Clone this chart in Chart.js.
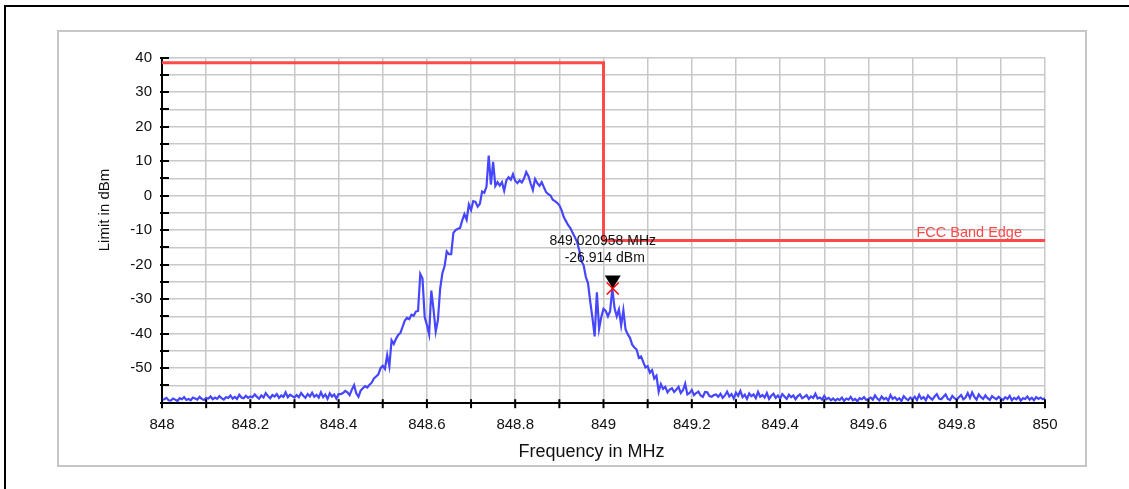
<!DOCTYPE html>
<html>
<head>
<meta charset="utf-8">
<script src="https://cdn.jsdelivr.net/npm/chart.js@4/dist/chart.umd.min.js"></script>
<style>
  html, body { margin: 0; padding: 0; background: #fff; }
  canvas { display: block; }
</style>
</head>
<body>
<canvas id="c" width="1129" height="489"></canvas>
<script>
// ---- data ----
const sweepStartMHz = 848.0;
const sweepStepMHz = 0.005;

// 848.000 - 848.400 MHz
const levelsLowNoise = [
  -59.2,-59.0,-58.6,-59.3,-59.4,-58.8,-59.1,-59.5,-58.7,-59.0,-58.4,-59.2,-58.9,-59.3,-58.5,-58.8,-59.1,-58.3,-58.9,-59.2,-58.6,
  -58.8,-58.2,-59.0,-58.5,-58.9,-58.1,-58.7,-59.1,-58.4,-58.6,-57.9,-58.8,-58.3,-58.9,-57.7,-58.5,-58.7,-58.0,-58.6,-58.2,
  -58.4,-57.6,-58.3,-58.8,-57.9,-58.5,-57.2,-58.1,-58.7,-57.8,-58.2,-57.5,-58.6,-57.9,-58.3,-57.0,-58.4,-57.7,-58.1,-58.5,
  -57.8,-58.4,-57.2,-58.0,-58.6,-57.5,-58.2,-57.1,-58.3,-57.7,-58.5,-57.0,-58.4,-57.6,-58.9,-57.3,-58.2,-57.6,-58.8,-57.5
];
// 848.405 - 849.260 MHz
const levelsMainLobe = [
  -57.5,-57.2,-56.6,-57.0,-57.8,-56.2,-54.9,-57.3,-58.3,-56.5,
  -55.8,-55.2,-55.6,-54.8,-54.2,-53.0,-52.4,-51.8,-50.0,-49.3,
  -50.2,-46.2,-49.4,-41.9,-43.0,-41.5,-40.4,-39.8,-38.0,-36.2,
  -35.4,-35.8,-34.5,-34.8,-33.6,-33.4,-22.7,-24.0,-35.2,-37.5,
  -40.2,-27.5,-33.0,-39.4,-36.0,-27.0,-22.5,-20.5,-16.2,-17.0,
  -17.0,-10.8,-10.0,-9.6,-9.4,-7.2,-5.4,-7.0,-2.6,-4.2,
  -1.6,-1.8,-3.2,-2.4,1.2,0.8,2.6,11.6,3.2,9.8,
  2.8,3.9,2.9,3.9,1.4,4.4,5.3,4.6,6.2,4.3,
  3.6,4.4,3.8,4.9,6.8,5.6,3.5,1.6,4.8,3.6,
  2.8,3.9,2.4,1.0,0.4,0.0,-1.2,-1.6,-2.1,-2.8,
  -4.2,-6.2,-7.4,-8.6,-9.4,-10.8,-12.0,-13.4,-15.8,-19.0,
  -20.2,-23.6,-25.4,-30.8,-35.5,-40.8,-28.0,-38.6,-35.2,-32.8,
  -33.4,-35.0,-33.5,-26.914,-32.6,-35.0,-33.0,-37.6,-33.2,-38.8,
  -40.2,-41.2,-43.2,-44.0,-44.6,-47.0,-46.6,-48.2,-49.8,-49.4,
  -51.3,-50.6,-53.0,-52.2,-56.8,-54.6,-56.0,-55.4,-57.0,-56.2,
  -55.8,-56.9,-56.2,-55.4,-57.2,-56.4,-54.5,-57.6,-57.2,-56.3,
  -57.8,-57.2,-56.8,-57.9,-58.3,-56.9,-57.0,-58.1,-58.3,-57.8,-57.6,-58.3
];
// 849.265 - 850.000 MHz
const levelsHighNoise = [
  -57.4,-58.6,-57.9,-56.8,-58.2,-57.5,-58.8,-57.1,-58.0,-56.6,
  -58.4,-57.7,-58.9,-57.3,-58.1,-57.6,-58.7,-56.9,-58.3,-57.8,
  -58.5,-57.2,-58.9,-58.0,-57.4,-58.6,-57.9,-58.8,-57.5,-58.2,
  -58.9,-57.7,-58.4,-57.9,-59.0,-58.1,-57.6,-58.7,-58.3,-57.8,
  -58.9,-58.2,-58.6,-57.4,-58.8,-58.5,-59.1,-58.0,
  -59.0,-58.6,-59.3,-58.8,-59.4,-58.9,-59.2,-58.5,-59.5,-58.8,-59.1,-58.3,-59.3,-58.9,-59.6,-58.7,-59.0,-58.4,-59.2,-58.9,
  -58.5,-59.1,-57.9,-58.8,-59.3,-58.2,-59.0,-58.6,-59.4,-57.8,-58.9,-58.4,-59.2,-58.7,-59.5,-58.1,-58.8,-59.3,-58.5,-59.0,
  -58.3,-59.2,-57.7,-58.9,-58.4,-59.3,-57.9,-58.6,-59.1,-58.2,-57.5,-58.8,-59.0,-58.3,-57.6,-58.9,-59.2,-58.0,-58.7,-59.1,
  -58.4,-57.8,-59.0,-58.5,-57.2,-58.6,-57.0,-58.3,-59.1,-57.6,-58.4,-58.9,-57.9,-58.7,-59.2,-58.1,-58.6,-59.0,-58.3,-58.8,
  -59.2,-58.4,-58.9,-58.0,-59.3,-58.6,-59.0,-58.3,-59.4,-58.7,-58.9,-58.2,-59.1,-58.6,-59.3,-58.4,-58.9,-58.5,-59.0,-58.7
];

const limitFreqMHz = [848, 849, 849, 850];
const limitLevelDbm = [38.5, 38.5, -13, -13];
const limitLabel = 'FCC Band Edge';

const markerFreqMHz = [849.020958];
const markerLevelDbm = [-26.914];

const xRange = [848, 850];
const xStep = 0.1;
const yRange = [-60, 40];
const yStep = 5;
const xTitle = 'Frequency in MHz';
const yTitle = 'Limit in dBm';

// ---- build ----
const traceLevels = [...levelsLowNoise, ...levelsMainLobe, ...levelsHighNoise];
const tracePoints = traceLevels.map((v, i) => ({ x: +(sweepStartMHz + i * sweepStepMHz).toFixed(3), y: v }));
const limitPoints = limitFreqMHz.map((f, i) => ({ x: f, y: limitLevelDbm[i] }));
const markerPoints = markerFreqMHz.map((f, i) => ({ x: f, y: markerLevelDbm[i] }));

const FONT = "'Liberation Sans', Arial, sans-serif";

const deco = {
  id: 'deco',
  beforeDraw(chart) {
    const ctx = chart.ctx;
    ctx.save();
    ctx.fillStyle = '#fff';
    ctx.fillRect(0, 0, chart.width, chart.height);
    ctx.strokeStyle = '#000';
    ctx.lineWidth = 2;
    ctx.strokeRect(5, 6, chart.width + 20, chart.height + 20);
    ctx.strokeStyle = '#c6c6c6';
    ctx.lineWidth = 2;
    ctx.strokeRect(58, 31, 1028, 435);
    ctx.restore();
  },
  afterDraw(chart) {
    const ctx = chart.ctx;
    const xs = chart.scales.x, ys = chart.scales.y;
    const area = chart.chartArea;
    ctx.save();
    // tick marks
    ctx.strokeStyle = '#000';
    ctx.lineWidth = 2;
    ys.ticks.forEach(t => {
      const y = Math.round(ys.getPixelForValue(t.value));
      ctx.beginPath(); ctx.moveTo(area.left - 2, y); ctx.lineTo(area.left + 7, y); ctx.stroke();
    });
    xs.ticks.forEach(t => {
      const x = xs.getPixelForValue(t.value);
      ctx.beginPath(); ctx.moveTo(x, area.bottom - 3.5); ctx.lineTo(x, area.bottom + 5.5); ctx.stroke();
    });
    // axis titles
    ctx.fillStyle = '#111';
    ctx.textAlign = 'center';
    ctx.textBaseline = 'middle';
    ctx.font = '18px ' + FONT;
    ctx.fillText(xTitle, 591.5, 452);
    ctx.save();
    ctx.translate(105, 210);
    ctx.rotate(-Math.PI / 2);
    ctx.font = '15px ' + FONT;
    ctx.fillText(yTitle, 0, 0);
    ctx.restore();
    // limit label
    ctx.fillStyle = '#ff4a4a';
    ctx.font = '14.5px ' + FONT;
    ctx.textAlign = 'right';
    ctx.fillText(limitLabel, xs.getPixelForValue(limitFreqMHz[3]) - 23, ys.getPixelForValue(limitLevelDbm[3]) - 7);
    // marker
    markerPoints.forEach(p => {
      const px = xs.getPixelForValue(p.x), py = ys.getPixelForValue(p.y);
      ctx.fillStyle = '#000';
      ctx.beginPath();
      ctx.moveTo(px - 8, py - 13);
      ctx.lineTo(px + 8, py - 13);
      ctx.lineTo(px, py);
      ctx.closePath();
      ctx.fill();
      ctx.strokeStyle = '#ff0000';
      ctx.lineWidth = 1.5;
      ctx.beginPath();
      ctx.moveTo(px - 6, py - 6); ctx.lineTo(px + 6, py + 6);
      ctx.moveTo(px + 6, py - 6); ctx.lineTo(px - 6, py + 6);
      ctx.stroke();
      ctx.fillStyle = '#111';
      ctx.font = '14px ' + FONT;
      ctx.textAlign = 'center';
      ctx.fillText(p.x.toFixed(6) + ' MHz', px - 10, py - 47.5);
      ctx.fillText(p.y.toFixed(3) + ' dBm', px - 8, py - 30);
    });
    ctx.restore();
  }
};

new Chart(document.getElementById('c'), {
  type: 'line',
  data: {
    datasets: [
      { data: tracePoints, borderColor: '#4646ff', borderWidth: 2.2, pointRadius: 0, tension: 0, fill: false },
      { data: limitPoints, borderColor: '#ff4a4a', borderWidth: 3, pointRadius: 0, tension: 0, fill: false }
    ]
  },
  options: {
    responsive: false,
    animation: false,
    events: [],
    layout: { padding: { left: 0, right: 84, top: 57.5, bottom: 0 } },
    plugins: { legend: { display: false }, tooltip: { enabled: false } },
    scales: {
      x: {
        type: 'linear', min: xRange[0], max: xRange[1],
        afterFit(s) { s.height = 86.3; },
        grid: { color: '#c8c8c8', lineWidth: 1.5, drawTicks: false },
        border: { color: '#000', width: 2 },
        ticks: {
          stepSize: xStep, autoSkip: false, maxRotation: 0, padding: 13,
          color: '#111', font: { family: FONT, size: 15 },
          callback(v) { const r = Math.round(v * 10); return r % 2 === 0 ? String(r / 10) : ''; }
        }
      },
      y: {
        type: 'linear', min: yRange[0], max: yRange[1],
        afterFit(s) { s.width = 162; },
        grid: { color: '#c8c8c8', lineWidth: 1.5, drawTicks: false },
        border: { color: '#000', width: 2 },
        ticks: {
          stepSize: yStep, padding: 10, autoSkip: false,
          color: '#111', font: { family: FONT, size: 15 },
          callback(v) { return (v % 10 === 0 && v > yRange[0]) ? String(v) : ''; }
        }
      }
    }
  },
  plugins: [deco]
});
</script>
</body>
</html>
